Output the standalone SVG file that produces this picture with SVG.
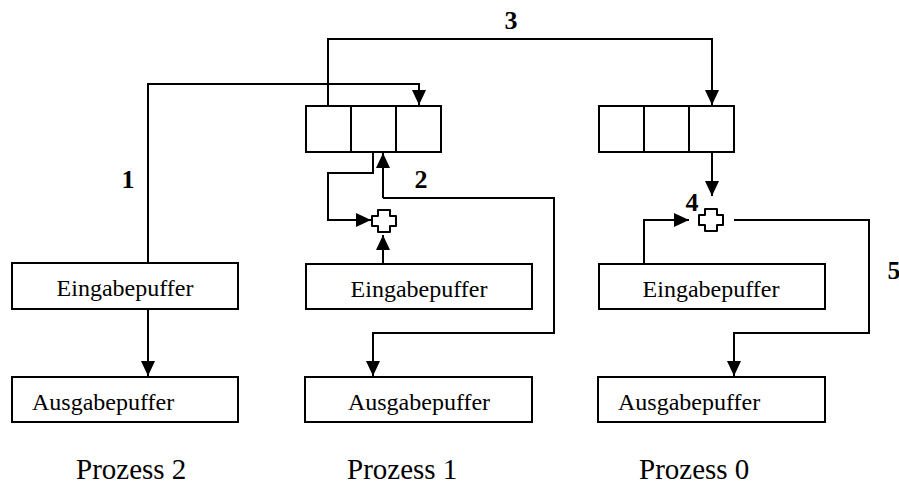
<svg xmlns="http://www.w3.org/2000/svg" width="899" height="487" viewBox="0 0 899 487">
<style>
.box{fill:#fff;stroke:#000;stroke-width:2}
.ln{fill:none;stroke:#000;stroke-width:2}
text{font-family:'Liberation Serif','Times New Roman',Tinos,'DejaVu Serif',serif;fill:#000}
.t{font-size:24px}
.p{font-size:29px}
.n{font-size:26px;font-weight:bold;text-anchor:middle}
.cross{fill:#fff;stroke:#000;stroke-width:2;stroke-linejoin:round}
</style>
<defs>
<marker id="ah" markerUnits="userSpaceOnUse" markerWidth="15" markerHeight="14" refX="15" refY="7" orient="auto">
<path d="M0,0 L15,7 L0,14 z" fill="#000"/>
</marker>
</defs>
<rect width="899" height="487" fill="#fff"/>
<g id="connectors">
<path class="ln" d="M328,106 V39 H712 V105" marker-end="url(#ah)"/>
<path class="ln" d="M148,263 V84 H419 V105" marker-end="url(#ah)"/>
<path class="ln" d="M148,309 V376" marker-end="url(#ah)"/>
<path class="ln" d="M373,152 V173 H328 V220 H371" marker-end="url(#ah)"/>
<path class="ln" d="M383,264 V235" marker-end="url(#ah)"/>
<path class="ln" d="M383,198 V153" marker-end="url(#ah)"/>
<path class="ln" d="M383,198 H554 V333 H373 V376" marker-end="url(#ah)"/>
<path class="ln" d="M712,152 V196" marker-end="url(#ah)"/>
<path class="ln" d="M644,264 V220 H689" marker-end="url(#ah)"/>
<path class="ln" d="M734,220 H869 V333 H734 V376" marker-end="url(#ah)"/>
</g>
<g id="buffer1">
<rect class="box" x="306" y="106" width="135" height="46"/>
<path class="ln" d="M351,106 V152 M396,106 V152"/>
</g>
<g id="buffer0">
<rect class="box" x="599" y="106" width="135" height="46"/>
<path class="ln" d="M644,106 V152 M689,106 V152"/>
</g>
<g id="cross1"><path class="cross" d="M378,210 h12 v6 h6 v10 h-6 v6 h-12 v-6 h-6 v-10 h6 z"/></g>
<g id="cross0"><path class="cross" d="M705,209 h12 v6 h6 v10 h-6 v6 h-12 v-6 h-6 v-10 h6 z"/></g>
<g id="eingabe2">
<rect class="box" x="12" y="263" width="226" height="46"/>
<text class="t" x="125" y="296" text-anchor="middle">Eingabepuffer</text>
</g>
<g id="ausgabe2">
<rect class="box" x="12" y="377" width="226" height="45"/>
<text class="t" x="32" y="410">Ausgabepuffer</text>
</g>
<g id="eingabe1">
<rect class="box" x="306" y="264" width="226" height="45"/>
<text class="t" x="419" y="297" text-anchor="middle">Eingabepuffer</text>
</g>
<g id="ausgabe1">
<rect class="box" x="305" y="377" width="227" height="45"/>
<text class="t" x="419" y="410" text-anchor="middle">Ausgabepuffer</text>
</g>
<g id="eingabe0">
<rect class="box" x="599" y="264" width="226" height="45"/>
<text class="t" x="711" y="297" text-anchor="middle">Eingabepuffer</text>
</g>
<g id="ausgabe0">
<rect class="box" x="598" y="377" width="227" height="45"/>
<text class="t" x="618" y="410">Ausgabepuffer</text>
</g>
<g id="labels">
<text class="n" x="128" y="188">1</text>
<text class="n" x="421" y="188">2</text>
<text class="n" x="511" y="29">3</text>
<text class="n" x="692" y="211">4</text>
<text class="n" x="894" y="279">5</text>
<text class="p" x="76" y="479">Prozess 2</text>
<text class="p" x="347" y="479">Prozess 1</text>
<text class="p" x="639" y="479">Prozess 0</text>
</g>
</svg>
